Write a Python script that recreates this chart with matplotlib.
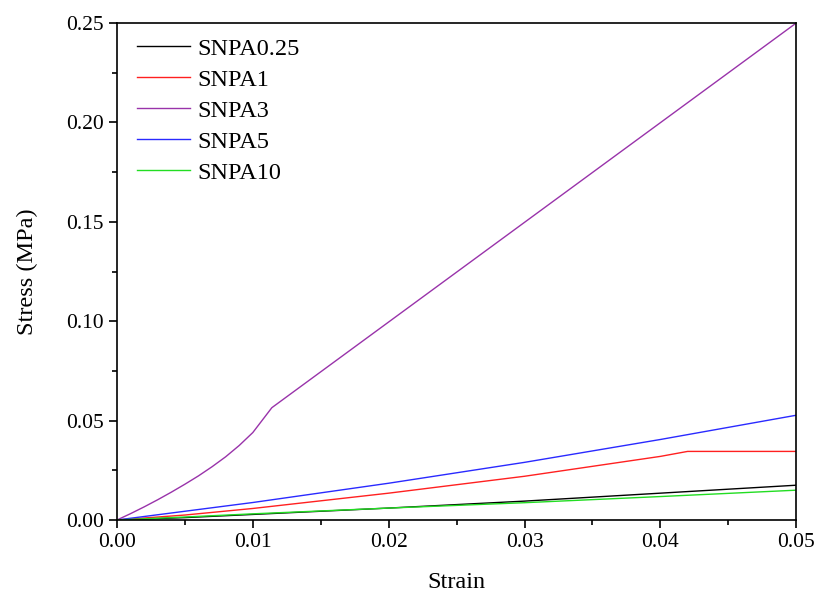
import matplotlib
matplotlib.use('Agg')
import matplotlib.pyplot as plt
from matplotlib.ticker import MultipleLocator, FormatStrFormatter

plt.rcParams['font.family'] = ['Liberation Serif', 'DejaVu Serif']

# strain / stress readings
x_025 = [0.0, 0.005, 0.01, 0.02, 0.03, 0.04, 0.05]
y_025 = [0.0, 0.0012, 0.0028, 0.006, 0.0095, 0.0135, 0.0175]

x_1 = [0.0, 0.005, 0.01, 0.02, 0.03, 0.04, 0.042, 0.05]
y_1 = [0.0, 0.0025, 0.0058, 0.0135, 0.022, 0.032, 0.0345, 0.0345]

x_3 = [0.0, 0.001, 0.002, 0.003, 0.004, 0.005, 0.006, 0.007, 0.008, 0.009, 0.010, 0.0114, 0.05]
y_3 = [0.0, 0.0032, 0.0066, 0.0102, 0.0140, 0.0180, 0.0222, 0.0268, 0.0318, 0.0375, 0.0440, 0.0565, 0.25]

x_5 = [0.0, 0.01, 0.02, 0.03, 0.04, 0.05]
y_5 = [0.0, 0.0088, 0.0185, 0.029, 0.0405, 0.0527]

x_10 = [0.0, 0.005, 0.01, 0.02, 0.03, 0.04, 0.05]
y_10 = [0.0, 0.0015, 0.0031, 0.006, 0.0087, 0.0118, 0.015]

fig = plt.figure(figsize=(8.14, 5.93), dpi=100)
ax = fig.add_axes([0.1437, 0.1231, 0.8345, 0.8381])

ax.plot(x_025, y_025, color='black', lw=1, label='SNPA0.25')
ax.plot(x_1, y_1, color='#ff2020', lw=1, label='SNPA1')
ax.plot(x_3, y_3, color='#9933aa', lw=1, label='SNPA3')
ax.plot(x_5, y_5, color='#2a2aff', lw=1, label='SNPA5')
ax.plot(x_10, y_10, color='#22dd22', lw=1, label='SNPA10')

ax.set_xlim(0, 0.05)
ax.set_ylim(0, 0.25)
ax.xaxis.set_major_locator(MultipleLocator(0.01))
ax.xaxis.set_minor_locator(MultipleLocator(0.005))
ax.yaxis.set_major_locator(MultipleLocator(0.05))
ax.yaxis.set_minor_locator(MultipleLocator(0.025))
ax.xaxis.set_major_formatter(FormatStrFormatter('%.2f'))
ax.yaxis.set_major_formatter(FormatStrFormatter('%.2f'))
ax.tick_params(which='both', direction='out', top=False, right=False, width=1.2, labelsize=15.5)
ax.tick_params(which='major', length=6)
ax.tick_params(which='minor', length=3.5)
for s in ax.spines.values():
    s.set_linewidth(1.2)

ax.set_xlabel('Strain', fontsize=17.5, labelpad=14)
ax.set_ylabel('Stress (MPa)', fontsize=17.5, labelpad=20)

ax.legend(loc='upper left', bbox_to_anchor=(0.0074, 1.0), frameon=False, fontsize=17.5,
          handlelength=2.2, labelspacing=0.37, borderaxespad=0.2, handletextpad=0.3)

fig.savefig('out.png', dpi=100)
